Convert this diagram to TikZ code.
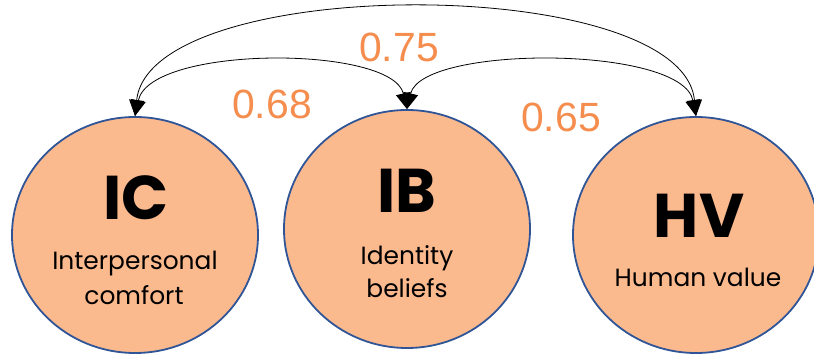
\documentclass[tikz,border=0pt]{standalone}
\usepackage{fontspec}
\setmainfont{Poppins}
\newfontfamily\numfont{Liberation Sans}
\usetikzlibrary{arrows.meta,shapes.geometric}
\definecolor{peach}{HTML}{FBB98E}
\definecolor{rimblue}{HTML}{2F5597}
\definecolor{corange}{HTML}{F58D4E}

\begin{document}
\begin{tikzpicture}[>={Triangle[length=16bp,width=15bp]},
  factor/.style={ellipse,draw=rimblue,line width=1.8bp,fill=peach,inner sep=0pt,minimum width=246bp},
  abbr/.style={anchor=base,font=\fontsize{62}{62}\selectfont\bfseries},
  longname/.style={anchor=base,font=\fontsize{25}{25}\selectfont},
  corr/.style={text=corange,font=\fontsize{41}{41}\selectfont\numfont}]
\useasboundingbox (0bp,0bp) rectangle (814bp,354bp);

\node (IC) at (135bp,119bp)[factor,minimum height=236bp] {};
\node (IB) at (407bp,125bp)[factor,minimum height=238bp] {};
\node (HV) at (696bp,119bp)[factor,minimum height=236bp] {};

\node (ICabbr) at (136bp,134bp)[abbr] {IC};
\node (ICname1) at (135bp,84bp)[longname] {Interpersonal};
\node (ICname2) at (134bp,49bp)[longname] {comfort};
\node (IBabbr) at (407bp,141bp)[abbr] {IB};
\node (IBname1) at (407bp,89bp)[longname] {Identity};
\node (IBname2) at (407bp,56bp)[longname] {beliefs};
\node (HVabbr) at (699bp,116bp)[abbr] {HV};
\node (HVname) at (698bp,67bp)[longname] {Human value};

\draw [<->,line width=0.8bp] (IC.north) .. controls (150bp,381bp) and (682bp,381bp) .. (HV.north);
\draw [<->,line width=0.8bp] (IC.north) .. controls (150bp,309bp) and (392bp,309bp) .. (IB.north);
\draw [<->,line width=0.8bp] (IB.north) .. controls (422bp,309bp) and (682bp,309bp) .. (HV.north);

\node (r13) at (399bp,307bp)[corr] {0.75};
\node (r12) at (272bp,250bp)[corr] {0.68};
\node (r23) at (561bp,237bp)[corr] {0.65};
\end{tikzpicture}
\end{document}
